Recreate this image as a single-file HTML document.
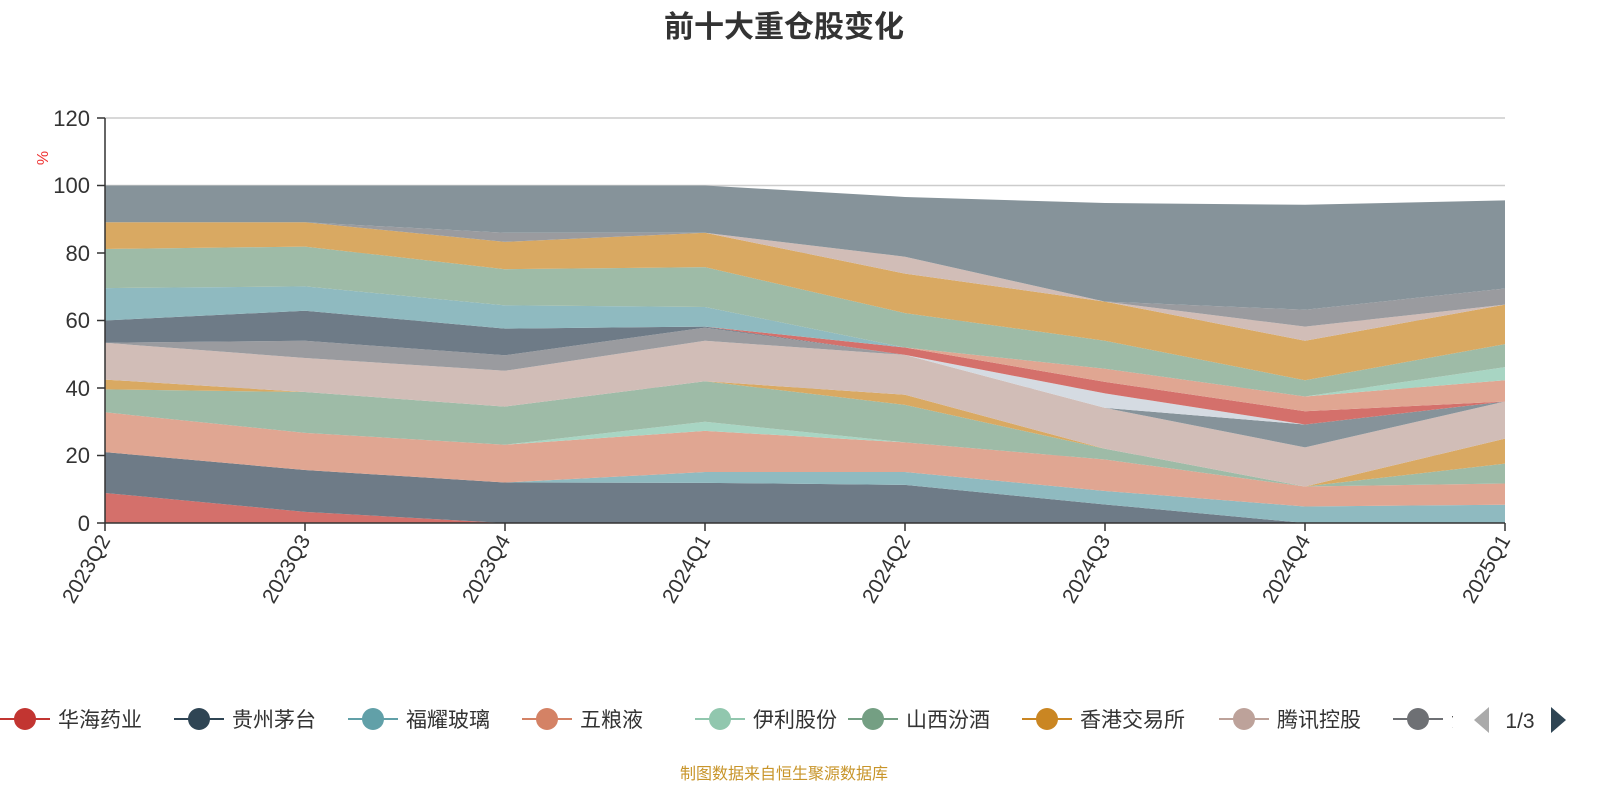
<!DOCTYPE html>
<html><head><meta charset="utf-8"><style>
html,body{margin:0;padding:0;background:#fff;width:1600px;height:800px;overflow:hidden}
svg{display:block;font-family:"Liberation Sans","Noto Sans CJK SC",sans-serif}
</style></head><body>
<svg id="s" width="1600" height="800" xmlns="http://www.w3.org/2000/svg">
<text x="784" y="37" text-anchor="middle" font-size="30" font-weight="bold" fill="#333">前十大重仓股变化</text>
<g id="grid" stroke="#ccc" stroke-width="1.5">
<line x1="105" x2="1505" y1="118" y2="118"/><line x1="105" x2="1505" y1="185.5" y2="185.5"/>
<line x1="105" x2="1505" y1="253" y2="253"/><line x1="105" x2="1505" y1="320.5" y2="320.5"/>
<line x1="105" x2="1505" y1="388" y2="388"/><line x1="105" x2="1505" y1="455.5" y2="455.5"/>
</g>
<g id="areas"></g>
<g stroke="#333" stroke-width="1.5">
<line x1="105" x2="105" y1="118" y2="523"/>
<line x1="97" x2="105" y1="118" y2="118"/><line x1="97" x2="105" y1="185.5" y2="185.5"/><line x1="97" x2="105" y1="253" y2="253"/><line x1="97" x2="105" y1="320.5" y2="320.5"/><line x1="97" x2="105" y1="388" y2="388"/><line x1="97" x2="105" y1="455.5" y2="455.5"/><line x1="97" x2="105" y1="523" y2="523"/>
<line x1="105" x2="1505" y1="523" y2="523"/>
</g>
<g id="xt" stroke="#333" stroke-width="1.5"></g>
<g font-size="22" fill="#333" text-anchor="end">
<text x="90" y="126">120</text><text x="90" y="193">100</text><text x="90" y="261">80</text><text x="90" y="328">60</text><text x="90" y="396">40</text><text x="90" y="463">20</text><text x="90" y="531">0</text>
</g>
<text x="48" y="158" font-size="16" fill="#e33" transform="rotate(-90 48 158)" text-anchor="middle">%</text>
<g id="xl" font-size="21" fill="#333" text-anchor="end"></g>
<g id="legend" font-size="21" fill="#333"></g>
<polygon points="1489,707 1489,733 1474,720" fill="#aaa"/>
<text x="1520" y="728" font-size="21" fill="#333" text-anchor="middle">1/3</text>
<polygon points="1551,707 1551,733 1566,720" fill="#2f4554"/>
<text x="784" y="779" font-size="16" fill="#c8952a" text-anchor="middle">制图数据来自恒生聚源数据库</text>
</svg>
<script>
var bands=[
["#d4706b",[8.9,3.3,0,0,0,0,0,0]],
["#6e7b87",[21,15.7,12,11.9,11.3,5.5,0,0]],
["#8fbac0",[21,15.7,12,15.1,15.1,9.5,4.9,5.4]],
["#e0a692",[32.8,26.7,23.2,27.3,23.9,18.8,10.8,11.7]],
["#a8d5c3",[32.8,26.7,23.2,30,23.9,18.8,10.8,11.7]],
["#9ebba7",[39.6,38.8,34.5,42,35,22,10.8,17.6]],
["#d9a962",[42.5,38.8,34.5,42,38,22,10.8,25]],
["#d1bdb7",[53.4,48.9,45.1,54,49.8,34.1,22.4,36]],
["#9a9b9f",[53.4,54,49.7,57.9,49.8,34.1,22.4,36]],
["#6e7b87",[60,62.9,57.6,58.2,49.8,34.1,22.4,36]],
["#86939a",[60,62.9,57.6,58.2,49.8,34.1,29.2,36]],
["#d5dbe2",[60,62.9,57.6,58.2,49.8,38.4,29.2,36]],
["#d4706b",[60,62.9,57.6,58.2,52,41.8,33.1,36]],
["#e0a692",[60,62.9,57.6,58.2,52,45.7,37.5,42.3]],
["#a8d5c3",[60,62.9,57.6,58.2,52,45.7,37.5,46.2]],
["#8fbac0",[69.6,70.1,64.5,64,52,45.7,37.5,46.2]],
["#9ebba7",[81.2,81.9,75.2,75.8,62.2,54,42.3,53]],
["#d9a962",[89.1,89.1,83.3,86,73.9,65.6,54,64.7]],
["#d1bdb7",[89.1,89.1,83.3,86,78.9,65.6,58.2,64.7]],
["#9a9b9f",[89.1,89.1,86,86,78.9,65.6,63.2,69.5]],
["#86939a",[100,100,100,100,96.6,94.8,94.3,95.6]]
];
var NS="http://www.w3.org/2000/svg";
function X(i){return 105+200*i}function Y(v){return 523-v*3.375}
var g=document.getElementById("areas"),prev=[0,0,0,0,0,0,0,0];
bands.forEach(function(b){var pts=[];for(var i=0;i<8;i++)pts.push(X(i)+","+Y(b[1][i]));for(var i=7;i>=0;i--)pts.push(X(i)+","+Y(prev[i]));
var p=document.createElementNS(NS,"polygon");p.setAttribute("points",pts.join(" "));p.setAttribute("fill",b[0]);g.appendChild(p);prev=b[1];});
var labs=["2023Q2","2023Q3","2023Q4","2024Q1","2024Q2","2024Q3","2024Q4","2025Q1"];
var xl=document.getElementById("xl"),xt=document.getElementById("xt");
labs.forEach(function(l,i){var x=X(i);var t=document.createElementNS(NS,"text");t.setAttribute("x",x+6);t.setAttribute("y",540);t.setAttribute("transform","rotate(-60 "+(x+6)+" 540)");t.textContent=l;xl.appendChild(t);
var ln=document.createElementNS(NS,"line");ln.setAttribute("x1",x);ln.setAttribute("x2",x);ln.setAttribute("y1",523);ln.setAttribute("y2",531);xt.appendChild(ln);});
var leg=[["华海药业","#c23531",25],["贵州茅台","#2f4554",199],["福耀玻璃","#61a0a8",373],["五粮液","#d48265",547],["伊利股份","#91c7ae",720],["山西汾酒","#749f83",873],["香港交易所","#ca8622",1047],["腾讯控股","#bda29a",1244],["贵","#6e7074",1418]];
var lg=document.getElementById("legend");
leg.forEach(function(e){var c=e[2];var s='<line x1="'+(c-25)+'" x2="'+(c+25)+'" y1="719" y2="719" stroke="'+e[1]+'" stroke-width="2"/><circle cx="'+c+'" cy="719" r="11" fill="'+e[1]+'"/>';
if(e[0]=="贵"&&c==1418){s+='<text x="'+(c+33)+'" y="727" clip-path="url(#cl)">'+e[0]+'</text>';}else s+='<text x="'+(c+33)+'" y="727">'+e[0]+'</text>';
lg.insertAdjacentHTML("beforeend",s);});
document.getElementById("s").insertAdjacentHTML("afterbegin",'<defs><clipPath id="cl"><rect x="0" y="690" width="1453" height="60"/></clipPath></defs>');
</script>
</body></html>
